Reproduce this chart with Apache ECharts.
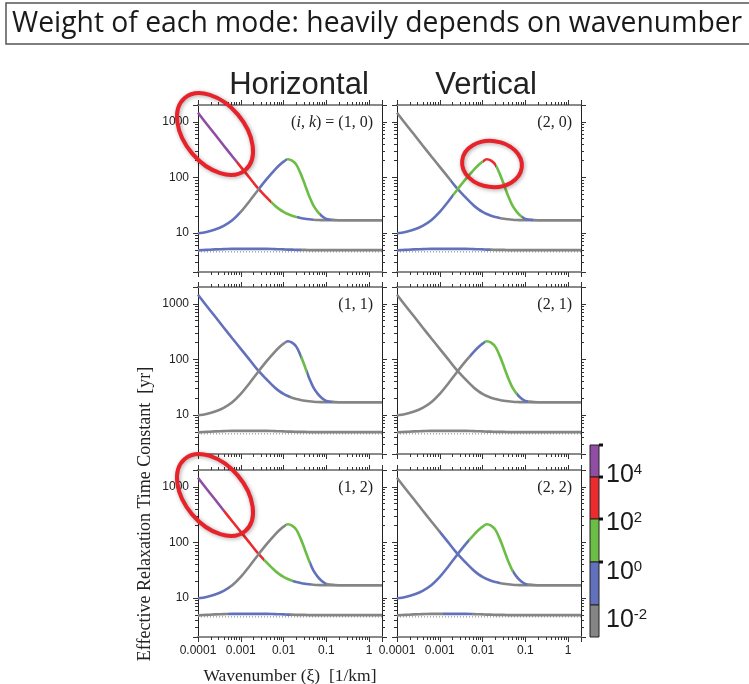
<!DOCTYPE html>
<html>
<head>
<meta charset="utf-8">
<script src="https://cdn.jsdelivr.net/npm/echarts@6/dist/echarts.min.js"></script>
<style>
  html, body { margin: 0; padding: 0; background: #fff; }
  #chart { width: 749px; height: 684px; }
</style>
</head>
<body>
<div id="chart"></div>
<script>
// wavenumber samples [1/km] and effective relaxation time constants [yr]
const wavenumber = [0.0001, 0.000158, 0.000251, 0.000398, 0.000631, 0.001, 0.00158, 0.00251, 0.00398, 0.00631,
  0.00794, 0.01, 0.0126, 0.0158, 0.02, 0.0251, 0.0316, 0.0398, 0.0501, 0.0631, 0.0794, 0.1, 0.158, 0.251,
  0.398, 0.631, 1, 2]
const slowMode = [1450, 920, 590, 375, 240, 155, 100, 64, 44, 31, 27, 24, 22, 20.5, 19.5, 18.7, 18.1, 17.7,
  17.4, 17.2, 17.1, 17, 17, 17, 17, 17, 17, 17]
const peakMode = [9.9, 10.5, 11.6, 13.5, 17, 24, 37, 59, 92, 138, 165, 192, 212, 200, 168, 117, 74, 46, 31,
  24, 20, 18, 17.2, 17, 17, 17, 17, 17]
const fastMode = [4.9, 5.0, 5.1, 5.15, 5.2, 5.2, 5.2, 5.2, 5.2, 5.15, 5.12, 5.1, 5.05, 5.05, 5.0, 5.0, 5.0,
  4.95, 4.95, 4.95, 4.95, 4.95, 4.95, 4.95, 4.95, 4.95, 4.95, 4.95]
const floorLine = 4.6

const xTickLabels = [0.0001, 0.001, 0.01, 0.1, 1]
const yTickLabels = [10, 100, 1000]
const panelNames = ['(1, 0)', '(2, 0)', '(1, 1)', '(2, 1)', '(1, 2)', '(2, 2)']
const columnTitles = ['Horizontal', 'Vertical']
const colorbarLabels = ['4', '2', '0', '-2']

// weight class of each mode along wavenumber: [class, upper wavenumber], last one open-ended
// P 10^4+, R 10^2-10^4, G 10^0-10^2, B 10^-2-10^0, K below
const weights10 = [
  [['P', 0.0008], ['R', 0.0052], ['G', 0.021], ['B', 0.05], ['K']],
  [['B', 0.00095], ['K', 0.0026], ['B', 0.0123], ['G', 0.07], ['B', 0.13], ['K']],
  [['B', 0.025], ['K']]
]
const weights20 = [
  [['K', 0.0018], ['B', 0.025], ['K']],
  [['B', 0.002], ['G', 0.0105], ['R', 0.021], ['G', 0.083], ['B', 0.15], ['K']],
  [['B', 0.015], ['K']]
]
const weights11 = [
  [['B', 0.014], ['K']],
  [['K', 0.0117], ['B', 0.025], ['G', 0.035], ['B', 0.135], ['K']],
  [['K']]
]
const weights21 = [
  [['K']],
  [['K', 0.0051], ['B', 0.0115], ['G', 0.063], ['B', 0.115], ['K']],
  [['K']]
]
const weights12 = [
  [['P', 0.0004], ['R', 0.0034], ['G', 0.017], ['B', 0.043], ['K']],
  [['B', 0.00056], ['K', 0.0117], ['G', 0.042], ['B', 0.1], ['K']],
  [['K', 0.0005], ['B', 0.014], ['K']]
]
const weights22 = [
  [['K', 0.001], ['B', 0.026], ['K']],
  [['B', 0.0047], ['G', 0.052], ['B', 0.107], ['K']],
  [['K', 0.0012], ['B', 0.0056], ['K']]
]
const panelWeights = [weights10, weights20, weights11, weights21, weights12, weights22]

const weightColors = { P: '#8f4ea3', R: '#ec2b2f', G: '#6cbd45', B: '#6271bb', K: '#858585' }

const colLeft = [198, 397]
const rowTop = [105, 287, 470]
const panelW = 184
const panelH = 167
const xMin = 0.0001
const xMax = 2
const yMin = 2
const yMax = 2000

function decadeTicks (lo, hi) {
  const out = []
  for (let e = -4; e <= 4; e++) {
    for (let m = 1; m <= 9; m++) {
      const v = +(m * Math.pow(10, e)).toPrecision(3)
      if (v >= lo && v <= hi) out.push(Math.log10(v))
    }
  }
  return out
}
const xMinorTicks = decadeTicks(xMin, xMax)
const yMinorTicks = decadeTicks(yMin, yMax)

const grids = []
const xAxes = []
const yAxes = []
const series = []
const graphics = []
const colored = []

function pairs (ys) {
  return wavenumber.map((x, i) => [x, ys[i]])
}

const modes = [slowMode, peakMode, fastMode]

// data grids with log axes
for (let p = 0; p < 6; p++) {
  const r = Math.floor(p / 2)
  const c = p % 2
  grids.push({ left: colLeft[c], top: rowTop[r], width: panelW, height: panelH })
  ;['bottom', 'top'].forEach(pos => {
    xAxes.push({
      type: 'log', gridIndex: p, position: pos, min: xMin, max: xMax, logBase: 10,
      axisLine: { show: true, onZero: false, lineStyle: { color: '#8a8a8a', width: 2 } },
      axisTick: { show: true, length: 5, lineStyle: { color: '#333', width: 1 } },
      axisLabel: {
        show: pos === 'bottom' && r === 2,
        customValues: xTickLabels,
        margin: 8,
        fontFamily: 'Liberation Sans', fontSize: 12, color: '#222',
        formatter: v => String(+(+v).toPrecision(3))
      },
      splitLine: { show: false }
    })
  })
  ;['left', 'right'].forEach(pos => {
    yAxes.push({
      type: 'log', gridIndex: p, position: pos, min: yMin, max: yMax, logBase: 10,
      axisLine: { show: true, onZero: false, lineStyle: { color: '#222', width: 1 } },
      axisTick: { show: true, length: 5, lineStyle: { color: '#333', width: 1 } },
      axisLabel: {
        show: pos === 'left' && c === 0,
        customValues: yTickLabels,
        margin: 9,
        fontFamily: 'Liberation Sans', fontSize: 12, color: '#222',
        formatter: v => String(Math.round(v))
      },
      splitLine: { show: false }
    })
  })

  // dotted reference line
  series.push({
    type: 'line', xAxisIndex: 2 * p, yAxisIndex: 2 * p, silent: true, showSymbol: false,
    data: [[xMin, floorLine], [xMax, floorLine]],
    lineStyle: { color: '#777', width: 1, type: [1, 2] }, z: 1
  })

  modes.forEach((ys, k) => {
    const segs = panelWeights[p][k]
    colored.push({ idx: series.length, axis: 2 * p, segs })
    series.push({
      type: 'line', xAxisIndex: 2 * p, yAxisIndex: 2 * p, silent: true,
      showSymbol: false, smooth: 0.35,
      data: pairs(ys),
      lineStyle: { width: 2.6, color: weightColors[segs[0][0]] },
      z: 3
    })
  })

  graphics.push({
    type: 'text',
    x: colLeft[c] + panelW - 9,
    y: rowTop[r] + 18,
    style: {
      text: p === 0 ? '({i|i}, {i|k}) = ' + panelNames[p] : panelNames[p],
      align: 'right', verticalAlign: 'middle',
      font: '16px "Liberation Serif"', fill: '#222',
      rich: { i: { fontStyle: 'italic', fontFamily: 'Liberation Serif', fontSize: 16, fill: '#222' } }
    },
    z: 10
  })
}

// overlay grids carrying the minor log ticks (axes in log10 units)
for (let p = 0; p < 6; p++) {
  const r = Math.floor(p / 2)
  const c = p % 2
  grids.push({ left: colLeft[c], top: rowTop[r], width: panelW, height: panelH })
  ;['bottom', 'top'].forEach(pos => {
    xAxes.push({
      type: 'value', gridIndex: 6 + p, position: pos, min: Math.log10(xMin), max: Math.log10(xMax),
      axisLine: { show: false, onZero: false },
      axisTick: { show: true, customValues: xMinorTicks, length: 3, lineStyle: { color: '#333', width: 1 } },
      axisLabel: { show: false },
      splitLine: { show: false }
    })
  })
  ;['left', 'right'].forEach(pos => {
    yAxes.push({
      type: 'value', gridIndex: 6 + p, position: pos, min: Math.log10(yMin), max: Math.log10(yMax),
      axisLine: { show: false, onZero: false },
      axisTick: { show: true, customValues: yMinorTicks, length: 3, lineStyle: { color: '#333', width: 1 } },
      axisLabel: { show: false },
      splitLine: { show: false }
    })
  })
}

// title box
graphics.push({
  type: 'rect', shape: { x: 6, y: 3, width: 800, height: 41 },
  style: { fill: '#fff', stroke: '#555', lineWidth: 1.5 }, z: 1
})
graphics.push({
  type: 'text', x: 12, y: 24,
  style: {
    text: 'Weight of each mode: heavily depends on wavenumber',
    font: '28.3px "Open Sans"', fill: '#1a1a1a', verticalAlign: 'middle'
  },
  z: 2
})

// column headers
columnTitles.forEach((t, c) => {
  graphics.push({
    type: 'text', x: [299, 486][c], y: 85,
    style: { text: t, font: '31px "Liberation Sans"', fill: '#222', align: 'center', verticalAlign: 'middle' }
  })
})

// axis names
graphics.push({
  type: 'text', x: 145, y: 514, rotation: Math.PI / 2,
  style: {
    text: 'Effective Relaxation Time Constant  [yr]',
    font: '18px "Liberation Serif"', fill: '#222', align: 'center', verticalAlign: 'middle'
  }
})
graphics.push({
  type: 'text', x: 290, y: 676,
  style: {
    text: 'Wavenumber (\u03BE)  [1/km]',
    font: '17.5px "Liberation Serif"', fill: '#222', align: 'center', verticalAlign: 'middle'
  }
})

// colour bar
const barEdges = [445, 477, 519, 562, 605, 637]
const barKeys = ['P', 'R', 'G', 'B', 'K']
barKeys.forEach((k, i) => {
  graphics.push({
    type: 'rect', shape: { x: 590, y: barEdges[i], width: 9, height: barEdges[i + 1] - barEdges[i] },
    style: { fill: weightColors[k], stroke: '#222', lineWidth: 1 }
  })
})
barEdges.slice(0, 4).forEach(y => {
  graphics.push({ type: 'rect', shape: { x: 599, y: y - 1.5, width: 4, height: 3 }, style: { fill: '#111' } })
})
const labelY = [475, 523, 572, 620]
colorbarLabels.forEach((s, i) => {
  graphics.push({
    type: 'text', x: 606, y: labelY[i],
    style: {
      text: '10{s|' + s + '}', font: '25px "Liberation Sans"', fill: '#1a1a1a', verticalAlign: 'middle',
      rich: { s: { fontSize: 15, fontFamily: 'Liberation Sans', verticalAlign: 'top', fill: '#1a1a1a' } }
    }
  })
})

// red highlight ellipses
const ellipses = [[215, 134, 47, 30, -0.87], [492, 164, 30, 23, -0.12], [215, 495, 47, 30, -0.87]]
ellipses.forEach(e => {
  graphics.push({
    type: 'ellipse', x: e[0], y: e[1], rotation: e[4],
    shape: { cx: 0, cy: 0, rx: e[2], ry: e[3] },
    style: { fill: 'none', stroke: '#e8222a', lineWidth: 4, shadowBlur: 4, shadowColor: 'rgba(0,0,0,0.35)', shadowOffsetX: 1, shadowOffsetY: 1 },
    z: 20
  })
})

const option = {
  animation: false,
  backgroundColor: '#fff',
  grid: grids,
  xAxis: xAxes,
  yAxis: yAxes,
  series: series,
  graphic: { elements: graphics }
}

const chart = echarts.init(document.getElementById('chart'))
chart.setOption(option)

// colour each curve by mode weight: hard-stop gradient placed with the log x axis
const updates = series.map(() => ({}))
colored.forEach(item => {
  if (item.segs.length < 2) return
  const left = chart.convertToPixel({ xAxisIndex: item.axis }, xMin)
  const right = chart.convertToPixel({ xAxisIndex: item.axis }, xMax)
  const stops = [{ offset: 0, color: weightColors[item.segs[0][0]] }]
  for (let i = 0; i < item.segs.length - 1; i++) {
    const px = chart.convertToPixel({ xAxisIndex: item.axis }, item.segs[i][1])
    const off = Math.min(1, Math.max(0, (px - left) / (right - left)))
    stops.push({ offset: off, color: weightColors[item.segs[i][0]] })
    stops.push({ offset: off, color: weightColors[item.segs[i + 1][0]] })
  }
  stops.push({ offset: 1, color: weightColors[item.segs[item.segs.length - 1][0]] })
  updates[item.idx] = {
    lineStyle: { color: new echarts.graphic.LinearGradient(left, 0, right, 0, stops, true) }
  }
})
chart.setOption({ series: updates })
</script>
</body>
</html>
